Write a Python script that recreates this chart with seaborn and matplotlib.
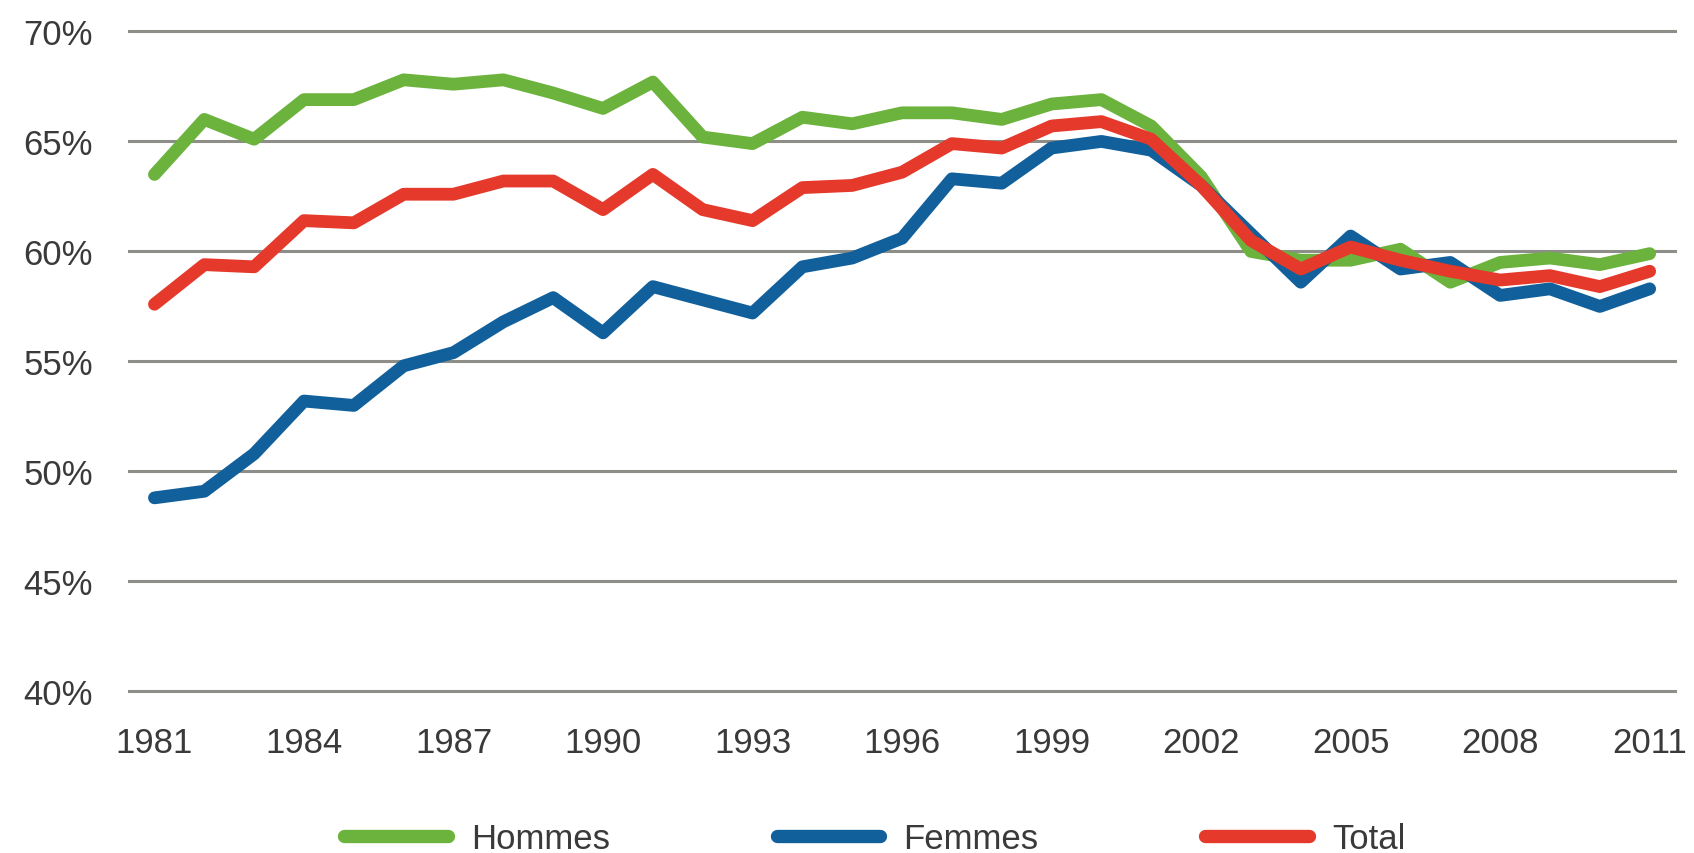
import numpy as np
import pandas as pd
import matplotlib.pyplot as plt
import seaborn as sns

years = list(range(1981, 2012))

hommes = [63.5, 66.0, 65.1, 66.9, 66.9, 67.8, 67.6, 67.8, 67.2, 66.5,
          67.7, 65.2, 64.9, 66.1, 65.8, 66.3, 66.3, 66.0, 66.7, 66.9,
          65.7, 63.4, 60.0, 59.6, 59.6, 60.1, 58.6, 59.5, 59.7, 59.4,
          59.9]
femmes = [48.8, 49.1, 50.8, 53.2, 53.0, 54.8, 55.4, 56.8, 57.9, 56.3,
          58.4, 57.8, 57.2, 59.3, 59.7, 60.6, 63.3, 63.1, 64.7, 65.0,
          64.6, 63.0, 60.8, 58.6, 60.7, 59.2, 59.5, 58.0, 58.3, 57.5,
          58.3]
total = [57.6, 59.4, 59.3, 61.4, 61.3, 62.6, 62.6, 63.2, 63.2, 61.9,
         63.5, 61.9, 61.4, 62.9, 63.0, 63.6, 64.9, 64.7, 65.7, 65.9,
         65.1, 63.0, 60.5, 59.2, 60.2, 59.6, 59.1, 58.7, 58.9, 58.4,
         59.1]

series_names = ['Hommes', 'Femmes', 'Total']
colors = ['#6cb33e', '#11609b', '#e4392b']
yticks = [40, 45, 50, 55, 60, 65, 70]
xticks = list(range(1981, 2012, 3))

df = pd.DataFrame({
    'annee': years * 3,
    'taux': hommes + femmes + total,
    'groupe': ['Hommes'] * len(years) + ['Femmes'] * len(years) + ['Total'] * len(years),
})

sns.set_style('white')
plt.rcParams['font.family'] = ['Liberation Sans', 'DejaVu Sans']

fig = plt.figure(figsize=(16.94, 8.54), dpi=100)
ax = fig.add_axes([0.0753, 0.1840, 0.9147, 0.7832])

sns.lineplot(data=df, x='annee', y='taux', hue='groupe', hue_order=series_names,
             palette=colors, linewidth=9.2, ax=ax, sort=False,
             solid_capstyle='round', solid_joinstyle='round')

for v in yticks:
    ax.axhline(v, color='#8e8e88', linewidth=2.2, zorder=0)

ax.set_xlim(1980.46, 2011.55)
ax.set_ylim(39.8, 70.2)
ax.set_xticks(xticks)
ax.set_yticks(yticks)
ax.set_yticklabels([f'{v}%' for v in yticks])
ax.tick_params(axis='both', length=0, labelsize=25, labelcolor='#3a3a3a', pad=25)
ax.tick_params(axis='x', pad=22)
ax.set_xlabel('')
ax.set_ylabel('')
sns.despine(ax=ax, left=True, bottom=True)

leg = ax.legend(handles=ax.lines[:3], labels=series_names, loc='center',
                bbox_to_anchor=(875 / 1694, 1 - 840 / 854),
                bbox_transform=fig.transFigure, ncol=3, frameon=False,
                fontsize=25, handlelength=2.97, handletextpad=0.68,
                columnspacing=4.8)
for line in leg.get_lines():
    line.set_linewidth(9.6)
    line.set_solid_capstyle('round')
for t in leg.get_texts():
    t.set_color('#3a3a3a')

fig.savefig('out.png', dpi=100)
